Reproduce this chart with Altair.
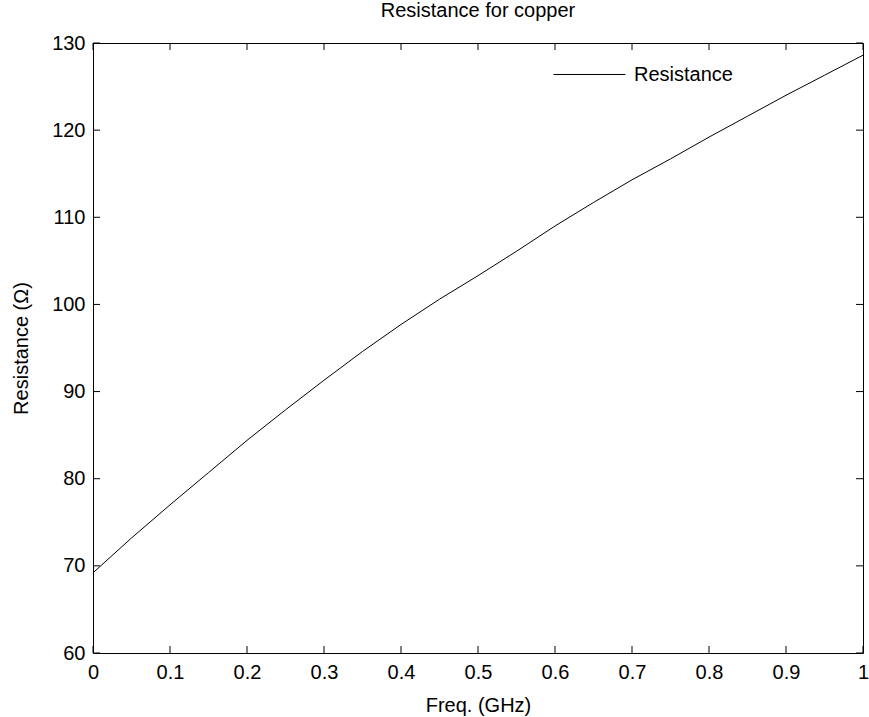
import altair as alt
import pandas as pd

# Data
freq_ghz = [0.0, 0.05, 0.1, 0.15, 0.2, 0.25, 0.3, 0.35, 0.4, 0.45, 0.5,
            0.55, 0.6, 0.65, 0.7, 0.75, 0.8, 0.85, 0.9, 0.95, 1.0]
resistance = [69.2, 73.2, 77.0, 80.7, 84.4, 87.9, 91.3, 94.6, 97.7, 100.6, 103.3,
              106.1, 109.0, 111.7, 114.3, 116.7, 119.2, 121.6, 124.0, 126.3, 128.6]
series_name = "Resistance"
x_ticks = [0, 0.1, 0.2, 0.3, 0.4, 0.5, 0.6, 0.7, 0.8, 0.9, 1.0]
y_ticks = [60, 70, 80, 90, 100, 110, 120, 130]

W, H = 770, 610
FONT = "Liberation Sans"
FS = 20
TICK = 7

df = pd.DataFrame({"f": freq_ghz, "r": resistance, "s": [series_name] * len(freq_ghz)})
xt = pd.DataFrame({"t": x_ticks})
yt = pd.DataFrame({"t": y_ticks})

xscale = alt.Scale(domain=[0, 1], nice=False, zero=False)
yscale = alt.Scale(domain=[60, 130], nice=False, zero=False)

line = alt.Chart(df).mark_line(strokeWidth=1, clip=True).encode(
    x=alt.X("f:Q", scale=xscale, title="Freq. (GHz)",
            axis=alt.Axis(values=x_ticks, format="~g", ticks=False, domain=False,
                          grid=False, labelPadding=9, titlePadding=13,
                          labelFlush=False)),
    y=alt.Y("r:Q", scale=yscale, title="Resistance (Ω)",
            axis=alt.Axis(values=y_ticks, format="d", ticks=False, domain=False,
                          grid=False, labelPadding=8, titlePadding=20,
                          labelFlush=False)),
    color=alt.Color("s:N", scale=alt.Scale(range=["black"]),
                    legend=alt.Legend(title=None, orient="none", legendX=460, legendY=-5,
                                      symbolType="stroke", symbolSize=5184,
                                      symbolStrokeWidth=1, labelFontSize=FS,
                                      labelFont=FONT, labelColor="black",
                                      labelOffset=8, padding=0)),
)

bottom_ticks = alt.Chart(xt).mark_rule(color="black", strokeWidth=1).encode(
    x=alt.X("t:Q", scale=xscale), y=alt.value(H), y2=alt.value(H - TICK))
top_ticks = alt.Chart(xt).mark_rule(color="black", strokeWidth=1).encode(
    x=alt.X("t:Q", scale=xscale), y=alt.value(0), y2=alt.value(TICK))
left_ticks = alt.Chart(yt).mark_rule(color="black", strokeWidth=1).encode(
    y=alt.Y("t:Q", scale=yscale), x=alt.value(0), x2=alt.value(TICK))
right_ticks = alt.Chart(yt).mark_rule(color="black", strokeWidth=1).encode(
    y=alt.Y("t:Q", scale=yscale), x=alt.value(W), x2=alt.value(W - TICK))

chart = alt.layer(line, bottom_ticks, top_ticks, left_ticks, right_ticks).properties(
    width=W, height=H,
    title=alt.TitleParams("Resistance for copper", fontSize=FS, font=FONT,
                          fontWeight="normal", color="black", anchor="middle",
                          offset=12),
    autosize=alt.AutoSizeParams(type="none"),
    padding={"left": 93, "top": 43, "right": 6, "bottom": 64},
    background="white",
).configure_view(stroke="black", strokeWidth=1).configure_axis(
    labelFont=FONT, labelFontSize=FS, labelColor="black",
    titleFont=FONT, titleFontSize=FS, titleColor="black", titleFontWeight="normal",
)

chart.save("out.html", embed_options={"renderer": "svg", "actions": False})
